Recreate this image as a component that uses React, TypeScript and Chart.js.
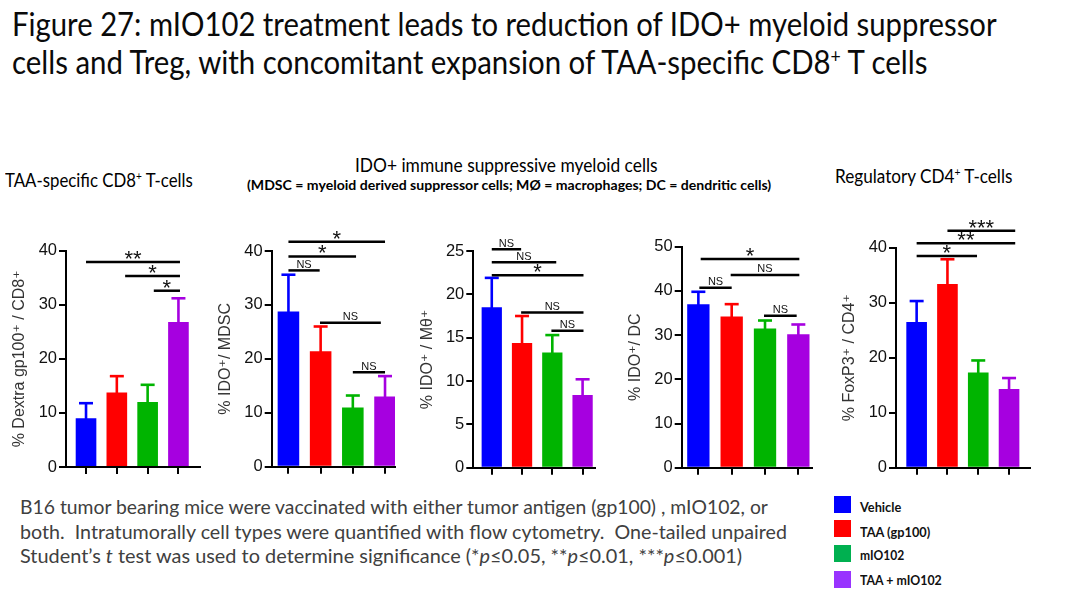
import React, { useEffect, useLayoutEffect, useRef, useState } from "react";
import { Chart, registerables } from "chart.js";

Chart.register(...registerables);

// ---------------- data ----------------
const groups = ["Vehicle", "TAA (gp100)", "mIO102", "TAA + mIO102"];

const cd8Means = [9.0, 13.8, 12.0, 26.8];
const cd8Errs = [2.8, 3.0, 3.2, 4.4];

const mdscMeans = [28.8, 21.4, 11.0, 13.0];
const mdscErrs = [6.8, 4.6, 2.2, 3.8];

const macMeans = [18.5, 14.4, 13.3, 8.4];
const macErrs = [3.4, 3.1, 2.0, 1.8];

const dcMeans = [37.0, 34.2, 31.5, 30.2];
const dcErrs = [2.8, 2.8, 1.8, 2.2];

const tregMeans = [26.5, 33.4, 17.3, 14.3];
const tregErrs = [3.8, 4.5, 2.2, 2.0];

// significance brackets: [fromGroupIndex, toGroupIndex, yValue, label]
type Bracket = [number, number, number, string];
const cd8Sig: Bracket[] = [
  [0, 3.05, 37.9, "**"],
  [1.27, 3.05, 35.3, "*"],
  [2.2, 3.05, 32.6, "*"],
];
const mdscSig: Bracket[] = [
  [0, 3.0, 41.7, "*"],
  [0, 2.1, 39.0, "*"],
  [0, 0.97, 36.4, "NS"],
  [0.98, 2.87, 26.7, "NS"],
  [2.0, 3.0, 17.5, "NS"],
];
const macSig: Bracket[] = [
  [0, 0.97, 25.2, "NS"],
  [0, 2.13, 23.7, "NS"],
  [0, 3.03, 22.2, "*"],
  [0.97, 3.03, 17.9, "NS"],
  [1.97, 3.03, 15.8, "NS"],
];
const dcSig: Bracket[] = [
  [0.07, 3.03, 47.2, "*"],
  [0.97, 3.03, 43.6, "NS"],
  [0.03, 1.0, 40.7, "NS"],
  [1.97, 2.95, 34.4, "NS"],
];
const tregSig: Bracket[] = [
  [1.0, 3.2, 43.1, "***"],
  [0, 3.2, 40.8, "**"],
  [0, 1.96, 38.5, "*"],
];

// ---------------- styles ----------------
const barColors = ["#0000FF", "#FF0000", "#00B400", "#A600E0"];
const legendColors = ["#0000FF", "#FF0000", "#00B050", "#9933FF"];
const ARIAL = "'Liberation Sans', Arial, 'DejaVu Sans', sans-serif";
const TEXT_FONT = "Lato, 'Open Sans', sans-serif";

type PanelDef = {
  title: string;
  yMax: number;
  yStep: number;
  means: number[];
  errs: number[];
  sig: Bracket[];
  // layout
  axisX: number;
  xEnd: number;
  topY: number;
  zeroY: number;
  xMin: number;
  xMax: number;
};

const panels: PanelDef[] = [
  { title: "% Dextra gp100\u207A / CD8\u207A", yMax: 40, yStep: 10, means: cd8Means, errs: cd8Errs, sig: cd8Sig,
    axisX: 66, xEnd: 200, topY: 250.7, zeroY: 467, xMin: -0.65, xMax: 3.7 },
  { title: "% IDO\u207A/ MDSC", yMax: 40, yStep: 10, means: mdscMeans, errs: mdscErrs, sig: mdscSig,
    axisX: 271.7, xEnd: 395, topY: 251, zeroY: 466.7, xMin: -0.52, xMax: 3.31 },
  { title: "% IDO\u207A / M\u03B8\u207A", yMax: 25, yStep: 5, means: macMeans, errs: macErrs, sig: macSig,
    axisX: 473.3, xEnd: 595, topY: 251, zeroY: 467.7, xMin: -0.61, xMax: 3.41 },
  { title: "% IDO\u207A/ DC", yMax: 50, yStep: 10, means: dcMeans, errs: dcErrs, sig: dcSig,
    axisX: 681.7, xEnd: 812, topY: 246.7, zeroY: 467.7, xMin: -0.5, xMax: 3.41 },
  { title: "% FoxP3\u207A / CD4\u207A", yMax: 40, yStep: 10, means: tregMeans, errs: tregErrs, sig: tregSig,
    axisX: 896, xEnd: 1030, topY: 247.7, zeroY: 467.7, xMin: -0.67, xMax: 3.68 },
];

const Y_AXIS_W = 62;
const X_AXIS_H = 14;
const CANVAS_TOP = 200;
const CANVAS_BOTTOM = 490;

function Panel({ p }: { p: PanelDef }) {
  const ref = useRef<HTMLCanvasElement>(null);
  const canvasLeft = Math.floor(p.axisX - Y_AXIS_W - 2);
  const canvasWidth = Math.ceil(p.xEnd + 6 - canvasLeft);
  const canvasHeight = CANVAS_BOTTOM - CANVAS_TOP;

  useEffect(() => {
    if (!ref.current) return;
    const errorBars = {
      id: "errorBars",
      afterDatasetsDraw(chart: any) {
        const { ctx } = chart;
        const y = chart.scales.y;
        const meta = chart.getDatasetMeta(0);
        ctx.save();
        meta.data.forEach((bar: any, i: number) => {
          const top = y.getPixelForValue(p.means[i] + p.errs[i]);
          ctx.strokeStyle = barColors[i];
          ctx.lineWidth = 2.6;
          ctx.lineCap = "butt";
          ctx.beginPath();
          ctx.moveTo(bar.x, bar.y + 2);
          ctx.lineTo(bar.x, top);
          ctx.stroke();
          ctx.beginPath();
          ctx.moveTo(bar.x - 7, top);
          ctx.lineTo(bar.x + 7, top);
          ctx.stroke();
        });
        ctx.restore();
      },
    };
    const sigBrackets = {
      id: "sigBrackets",
      afterDatasetsDraw(chart: any) {
        const { ctx } = chart;
        const x = chart.scales.x;
        const y = chart.scales.y;
        ctx.save();
        p.sig.forEach(([a, b, v, label]) => {
          const x1 = x.getPixelForValue(a);
          const x2 = x.getPixelForValue(b);
          const yy = y.getPixelForValue(v);
          ctx.strokeStyle = "#000";
          ctx.lineWidth = 2.5;
          ctx.beginPath();
          ctx.moveTo(x1, yy);
          ctx.lineTo(x2, yy);
          ctx.stroke();
          ctx.fillStyle = "#111";
          ctx.textAlign = "center";
          ctx.textBaseline = "alphabetic";
          if (label === "NS") {
            ctx.font = `11px ${ARIAL}`;
            ctx.fillText(label, (x1 + x2) / 2, yy - 2.5);
          } else {
            ctx.font = `22px ${ARIAL}`;
            ctx.fillText(label, (x1 + x2) / 2, yy + 4);
          }
        });
        ctx.restore();
      },
    };

    const chart = new Chart(ref.current, {
      type: "bar",
      data: {
        datasets: [
          {
            data: p.means.map((m, i) => ({ x: i, y: m })) as any,
            backgroundColor: barColors,
            borderWidth: 0,
            barPercentage: 0.67,
            categoryPercentage: 1,
          },
        ],
      },
      options: {
        animation: false,
        responsive: false,
        maintainAspectRatio: false,
        devicePixelRatio: 1,
        layout: {
          padding: {
            top: p.topY - CANVAS_TOP,
            bottom: CANVAS_BOTTOM - X_AXIS_H - p.zeroY,
            left: p.axisX - Y_AXIS_W - canvasLeft,
            right: canvasLeft + canvasWidth - p.xEnd,
          },
        },
        plugins: {
          legend: { display: false },
          tooltip: { enabled: false },
        },
        scales: {
          x: {
            type: "linear",
            min: p.xMin,
            max: p.xMax,
            bounds: "data",
            offset: false,
            afterBuildTicks: (s: any) => {
              s.ticks = groups.map((_, i) => ({ value: i }));
            },
            afterFit: (s: any) => {
              s.height = X_AXIS_H;
            },
            ticks: { display: false },
            grid: {
              display: true,
              offset: false,
              drawOnChartArea: false,
              drawTicks: true,
              tickLength: 7,
              lineWidth: 2,
              color: "#000",
            },
            border: { display: true, width: 2, color: "#000" },
          },
          y: {
            min: 0,
            max: p.yMax,
            ticks: {
              stepSize: p.yStep,
              color: "#111",
              padding: 2,
              font: { family: ARIAL, size: 16.5 },
            },
            grid: {
              display: true,
              drawOnChartArea: false,
              drawTicks: true,
              tickLength: 7,
              lineWidth: 2,
              color: "#000",
            },
            border: { display: true, width: 2, color: "#000" },
            title: {
              display: true,
              text: p.title,
              color: "#333",
              font: { family: ARIAL, size: 16 },
              padding: { top: 6.4, bottom: 0 },
            },
            afterFit: (s: any) => {
              s.width = Y_AXIS_W;
            },
          },
        },
      } as any,
      plugins: [errorBars, sigBrackets],
    });
    return () => chart.destroy();
  }, []);

  return (
    <canvas
      ref={ref}
      width={canvasWidth}
      height={canvasHeight}
      style={{ position: "absolute", left: canvasLeft, top: CANVAS_TOP, width: canvasWidth, height: canvasHeight }}
    />
  );
}

function FitText(props: {
  left: number;
  baseline: number;
  width: number;
  size: number;
  weight?: number;
  color?: string;
  children: React.ReactNode;
}) {
  const { left, baseline, width, size, weight = 400, color = "#000", children } = props;
  const ref = useRef<HTMLDivElement>(null);
  const [sx, setSx] = useState(1);
  useLayoutEffect(() => {
    const fit = () => {
      const el = ref.current;
      if (!el) return;
      const w = el.offsetWidth;
      if (w > 0) setSx(width / w);
    };
    fit();
    const fonts = (document as any).fonts;
    if (fonts && fonts.ready) fonts.ready.then(fit);
  }, [width]);
  return (
    <div
      ref={ref}
      style={{
        position: "absolute",
        left,
        top: baseline - size * 0.987,
        fontFamily: TEXT_FONT,
        fontSize: size,
        fontWeight: weight,
        color,
        lineHeight: `${size * 1.2}px`,
        whiteSpace: "pre",
        transform: `scaleX(${sx})`,
        transformOrigin: "left top",
      }}
    >
      {children}
    </div>
  );
}

const Sup = ({ children }: { children: React.ReactNode }) => (
  <span style={{ fontSize: "0.6em", position: "relative", top: "-0.6em" }}>{children}</span>
);

export default function App() {
  const legendTops = [496, 520, 545, 571];
  const legendBaselines = [513, 538, 561, 586];
  const legendWidths = [41, 70, 44, 82];
  return (
    <div
      style={{
        position: "absolute",
        left: 0,
        top: 0,
        width: 1065,
        height: 598,
        background: "#fff",
        overflow: "hidden",
      }}
    >
      <FitText left={12} baseline={37} width={985} size={32} color="#0a0a0a">
        Figure 27: mIO102 treatment leads to reduction of IDO+ myeloid suppressor
      </FitText>
      <FitText left={12} baseline={75} width={915} size={32} color="#0a0a0a">
        cells and Treg, with concomitant expansion of TAA-specific CD8<Sup>+</Sup> T cells
      </FitText>

      <FitText left={5} baseline={187} width={188} size={18.5}>
        TAA-specific CD8<Sup>+</Sup> T-cells
      </FitText>
      <FitText left={355} baseline={172} width={303} size={18.5}>
        IDO+ immune suppressive myeloid cells
      </FitText>
      <FitText left={247} baseline={190} width={524} size={13.5} weight={700}>
        (MDSC = myeloid derived suppressor cells; MØ = macrophages; DC = dendritic cells)
      </FitText>
      <FitText left={835} baseline={183} width={177} size={18.5}>
        Regulatory CD4<Sup>+</Sup> T-cells
      </FitText>

      {panels.map((p, i) => (
        <Panel key={i} p={p} />
      ))}

      <FitText left={20} baseline={514} width={748} size={18.7} color="#404040">
        B16 tumor bearing mice were vaccinated with either tumor antigen (gp100) , mIO102, or
      </FitText>
      <FitText left={20} baseline={539} width={767} size={18.7} color="#404040">
        {"both.  Intratumorally cell types were quantified with flow cytometry.  One-tailed unpaired"}
      </FitText>
      <FitText left={20} baseline={563} width={722} size={18.7} color="#404040">
        Student’s <i>t</i> test was used to determine significance (*<i>p</i>≤0.05, **<i>p</i>≤0.01, ***<i>p</i>≤0.001)
      </FitText>

      {groups.map((g, i) => (
        <React.Fragment key={g}>
          <div
            style={{
              position: "absolute",
              left: 834,
              top: legendTops[i],
              width: 17,
              height: 17,
              background: legendColors[i],
            }}
          />
          <FitText left={860} baseline={legendBaselines[i]} width={legendWidths[i]} size={14} weight={700} color="#111">
            {g}
          </FitText>
        </React.Fragment>
      ))}
    </div>
  );
}
